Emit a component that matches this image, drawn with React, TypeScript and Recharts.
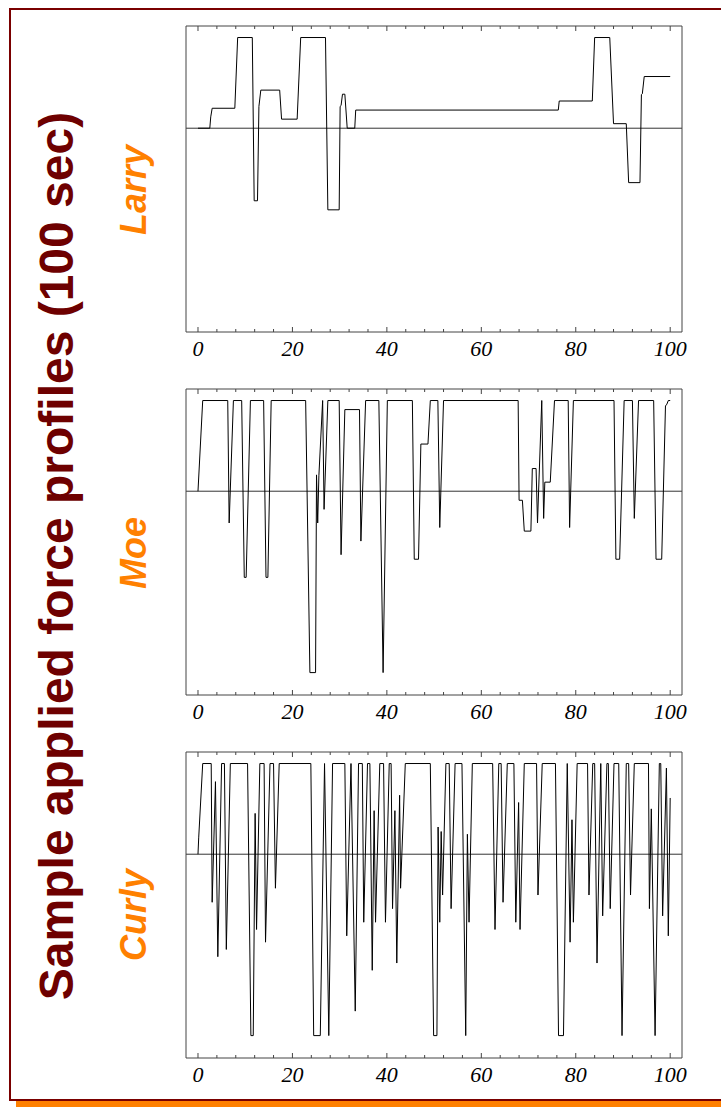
import React from "react";
import { LineChart, Line, XAxis, YAxis, ReferenceLine } from "recharts";

// force profiles, [time (s), force]
const larry: [number, number][] = [
  [0, 0], [2.5, 0], [2.7, 0.125], [3.0, 0.22], [7.8, 0.22], [8.4, 1], [11.5, 1],
  [11.9, -0.8], [12.6, -0.8], [12.9, 0.24], [13.3, 0.42], [17.3, 0.42], [17.7, 0.1],
  [21.0, 0.1], [21.75, 1], [27.0, 1], [27.5, -0.9], [29.9, -0.9], [30.1, 0.24],
  [30.3, 0.25], [30.6, 0.375], [31.1, 0.375], [31.6, 0], [33.2, 0], [33.4, 0.2],
  [76.3, 0.2], [76.5, 0.3], [83.5, 0.3], [84.0, 1], [87.2, 1], [88.0, 0.05],
  [90.7, 0.05], [91.2, -0.6], [93.6, -0.6], [93.9, 0.37], [94.1, 0.38], [94.5, 0.57],
  [100, 0.57],
];

const moe: [number, number][] = [
  [0, 0], [1.0, 1], [6.3, 1], [6.6, -0.35], [7.5, 1], [9.25, 1], [9.8, -0.95],
  [10.2, -0.95], [11.1, 1], [13.9, 1], [14.4, -0.95], [14.8, -0.95], [15.5, 1],
  [22.8, 1], [23.7, -2], [24.9, -2], [25.1, 0.18], [25.35, -0.35], [25.6, 0.17],
  [26.4, 1], [26.7, -0.2], [27.5, 1], [29.9, 1], [30.3, -0.7], [31.1, 0.9],
  [34.2, 0.9], [34.5, -0.55], [35.5, 1], [38.3, 1], [39.2, -2], [40.1, 1], [45.4, 1],
  [45.8, -0.75], [46.7, -0.75], [47.2, 0.52], [48.7, 0.52], [49.2, 1], [50.8, 1],
  [51.2, -0.4], [52.0, 1], [67.8, 1], [68.0, -0.1], [68.7, -0.1], [69.1, -0.44],
  [70.5, -0.44], [70.8, 0.25], [71.6, 0.25], [71.9, -0.35], [72.8, 1], [73.2, -0.3],
  [73.45, 0.1], [74.6, 0.1], [75.5, 1], [78.4, 1], [78.7, -0.4], [79.5, 1], [88.1, 1],
  [88.5, -0.75], [89.3, -0.75], [90.25, 1], [92.0, 1], [92.4, -0.3], [93.3, 1],
  [96.5, 1], [97.0, -0.75], [98.2, -0.75], [99.0, 0.94], [99.3, 0.96], [99.6, 1],
  [100, 1],
];

const curly: [number, number][] = [
  [0, 0], [0.15, 0.18], [1.0, 1], [2.8, 1], [3.0, -0.53], [3.7, 0.8], [4.2, -1.13],
  [5.0, 1], [5.6, 1], [6.0, -1.05], [6.85, 1], [10.5, 1], [11.2, -2], [11.7, -2],
  [12.1, 0.45], [12.4, -0.83], [13.1, 1], [14.0, 1], [14.3, -0.97], [15.25, 1],
  [16.0, 1], [16.4, -0.375], [17.2, 1], [23.9, 1], [24.5, -2], [25.9, -2], [26.8, 1],
  [27.7, -2], [28.5, 1], [31.1, 1], [31.5, -0.9], [32.4, 1], [33.3, -1.73], [34.0, 1],
  [34.8, 1], [35.1, -0.75], [35.9, 1], [36.4, 1], [36.9, -1.28], [37.3, 0.48],
  [37.6, -0.75], [38.5, 1], [39.3, 1], [39.7, -0.75], [40.5, 1], [40.9, 1],
  [41.2, -0.6], [41.7, 0.48], [42.1, -1.2], [42.7, 0.65], [42.9, -0.375], [43.9, 1],
  [49.2, 1], [49.9, -2], [50.6, -2], [50.85, 0.3], [51.2, -0.75], [51.5, 0.25],
  [51.8, -0.45], [52.5, 1], [53.2, 1], [53.6, -0.6], [54.45, 1], [55.9, 1],
  [56.7, -2], [57.05, 0.22], [57.4, -0.75], [58.1, 1], [62.4, 1], [62.9, -0.83],
  [63.7, 1], [64.2, 1], [64.6, -0.53], [65.5, 1], [66.9, 1], [67.3, -0.75],
  [67.9, 0.57], [68.2, -0.83], [69.1, 1], [71.7, 1], [72.0, -0.45], [72.9, 1],
  [75.7, 1], [76.35, -2], [77.4, -2], [78.2, 1], [78.8, -0.97], [79.2, 0.38],
  [79.5, -0.75], [80.3, 1], [82.5, 1], [82.8, -0.45], [83.6, 1], [84.0, 1],
  [84.5, -1.2], [85.3, 1], [85.7, -0.68], [86.6, 1], [86.9, 1], [87.3, -0.6],
  [88.1, 1], [89.1, 1], [89.8, -2], [90.7, 1], [91.2, 1], [91.6, -0.45], [92.4, 1],
  [95.4, 1], [95.6, -0.6], [96.0, 0.5], [96.8, -2], [97.7, 1], [98.0, 1],
  [98.4, -0.68], [99.2, 0.95], [99.6, -0.9], [100, 0.62],
];

const xTicks = [0, 4, 8, 12, 16, 20, 24, 28, 32, 36, 40, 44, 48, 52, 56, 60, 64, 68, 72, 76, 80, 84, 88, 92, 96, 100];
const X_DOMAIN: [number, number] = [-2.54, 102.5];
const Y_DOMAIN: [number, number] = [-2.247, 1.127];

const TITLE = "Sample applied force profiles (100 sec)";
const BOX = "#444";

const BottomTick = (props: any) => {
  const { x, y, payload } = props;
  const major = payload.value % 20 === 0;
  return (
    <g>
      <line x1={x} x2={x} y1={y} y2={y - (major ? 5 : 3)} stroke={BOX} />
      {major && (
        <text
          x={x}
          y={y + 24}
          textAnchor="middle"
          fontFamily="'Liberation Serif', 'Times New Roman', serif"
          fontStyle="italic"
          fontSize={22}
          fill="#000"
        >
          {payload.value}
        </text>
      )}
    </g>
  );
};

const TopTick = (props: any) => {
  const { x, y, payload } = props;
  const major = payload.value % 20 === 0;
  return <line x1={x} x2={x} y1={y} y2={y + (major ? 5 : 3)} stroke={BOX} />;
};

const Panel = ({ points, top }: { points: [number, number][]; top: number }) => {
  const data = points.map(([t, f]) => ({ t, f }));
  return (
    <div style={{ position: "absolute", left: 166, top: top - 10 }}>
      <LineChart width={536} height={356} data={data} margin={{ top: 9, right: 19, bottom: 0, left: 19 }}>
        <XAxis
          dataKey="t"
          type="number"
          domain={X_DOMAIN}
          allowDataOverflow
          ticks={xTicks}
          interval={0}
          height={40}
          tickLine={false}
          tickSize={0}
          tickMargin={0}
          axisLine={{ stroke: BOX }}
          tick={<BottomTick />}
        />
        <XAxis
          xAxisId="top"
          orientation="top"
          dataKey="t"
          type="number"
          domain={X_DOMAIN}
          allowDataOverflow
          ticks={xTicks}
          interval={0}
          height={1}
          tickLine={false}
          tickSize={0}
          tickMargin={0}
          axisLine={{ stroke: BOX }}
          tick={<TopTick />}
        />
        <YAxis type="number" domain={Y_DOMAIN} allowDataOverflow width={1} tick={false} tickLine={false} axisLine={{ stroke: BOX }} />
        <YAxis
          yAxisId="r"
          orientation="right"
          type="number"
          domain={Y_DOMAIN}
          allowDataOverflow
          width={1}
          tick={false}
          tickLine={false}
          axisLine={{ stroke: BOX }}
        />
        <ReferenceLine y={0} stroke="#333" />
        <Line type="linear" dataKey="f" stroke="#000" strokeWidth={1} dot={false} isAnimationActive={false} />
      </LineChart>
    </div>
  );
};

const labelStyle = {
  fontFamily: "'Liberation Sans', Arial, sans-serif",
  fontWeight: "bold" as const,
  fontStyle: "italic" as const,
  fontSize: 36,
  fill: "#ff8000",
};

export default function App() {
  return (
    <div style={{ position: "absolute", left: 0, top: 0, width: 721, height: 1107, background: "#fff", overflow: "hidden" }}>
      <svg width={721} height={1107} style={{ position: "absolute", left: 0, top: 0 }}>
        <rect x={16} y={1101} width={710} height={6} fill="#ff8000" />
        <rect x={10} y={9} width={720} height={1091} fill="#fff" stroke="#7a0000" strokeWidth={2} />
        <text
          transform="translate(73, 556) rotate(-90)"
          textAnchor="middle"
          fontFamily="'Liberation Sans', Arial, sans-serif"
          fontWeight="bold"
          fontSize={48}
          fill="#6e0000"
        >
          {TITLE}
        </text>
        <text transform="translate(146, 190) rotate(-90)" textAnchor="middle" {...labelStyle}>
          Larry
        </text>
        <text transform="translate(146, 553) rotate(-90)" textAnchor="middle" {...labelStyle}>
          Moe
        </text>
        <text transform="translate(146, 915) rotate(-90)" textAnchor="middle" {...labelStyle}>
          Curly
        </text>
      </svg>
      <Panel points={larry} top={26} />
      <Panel points={moe} top={389} />
      <Panel points={curly} top={752} />
    </div>
  );
}
